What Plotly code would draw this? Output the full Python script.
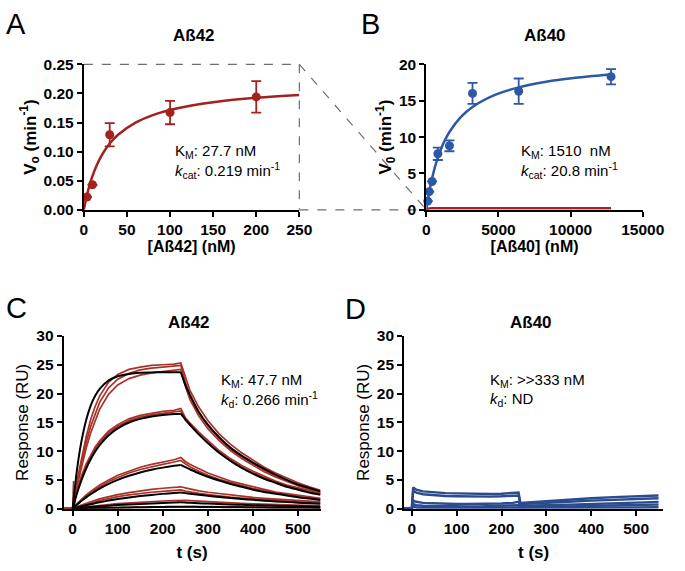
import plotly.graph_objects as go

# ---------------- Panel A : Aß42 kinetics ----------------
a_conc = [3.7, 10, 30, 100, 200]
a_v0 = [0.022, 0.043, 0.129, 0.167, 0.194]
a_err = [0, 0, 0.020, 0.020, 0.027]
a_fit_x = [0, 2, 5, 10, 20, 30, 40, 60, 80, 100, 125, 150, 200, 250]
a_fit_y = [0, 0.0147, 0.0334, 0.0581, 0.0918, 0.1139, 0.1294, 0.1498, 0.1627,
           0.1715, 0.1793, 0.1849, 0.1924, 0.1972]
a_xticks = [0, 50, 100, 150, 200, 250]
a_yticks = [0, 0.05, 0.10, 0.15, 0.20, 0.25]

# ---------------- Panel B : Aß40 kinetics ----------------
b_conc = [100, 200, 400, 800, 1600, 3200, 6400, 12800]
b_v0 = [1.2, 2.5, 3.9, 7.7, 8.8, 16.0, 16.3, 18.3]
b_err = [0, 0, 0, 0.85, 0.75, 1.45, 1.75, 1.05]
b_fit_x = [0, 100, 200, 400, 800, 1200, 1600, 2400, 3200, 4800, 6400, 8000,
           9600, 11200, 12800]
b_fit_y = [0, 1.29, 2.43, 4.36, 7.20, 9.21, 10.70, 12.77, 14.13, 15.82, 16.83,
           17.50, 17.97, 18.33, 18.61]
b_a42_x = [0, 100, 400, 1600, 6400, 12800]
b_a42_y = [0, 0.17, 0.205, 0.215, 0.218, 0.219]
b_xticks = [0, 5000, 10000, 15000]
b_yticks = [0, 5, 10, 15, 20]

# ---------------- Panel C : SPR Aß42 ----------------
c_t = [0, 10, 20, 30, 40, 50, 60, 80, 100, 125, 150, 175, 200, 225, 240,
       250, 260, 280, 300, 325, 350, 375, 400, 425, 450, 475, 500, 525, 550]
c_baseline_t = -20
c_spike_t = 2
c_spike_peak = 4.8
c_fits = [
    [0, 7.0, 11.9, 15.4, 17.9, 19.6, 20.8, 22.3, 23.0, 23.4, 23.6, 23.65, 23.7, 23.7, 23.7,
     21.5, 19.8, 16.8, 14.6, 12.4, 10.6, 9.2, 8.0, 6.9, 5.9, 5.0, 4.2, 3.6, 3.0],
    [0, 2.76, 5.05, 6.97, 8.58, 9.92, 11.03, 12.76, 13.96, 14.96, 15.6, 16.0, 16.26, 16.43, 16.5,
     15.5, 14.6, 12.9, 11.4, 9.7, 8.3, 7.1, 6.1, 5.2, 4.5, 3.8, 3.3, 2.8, 2.4],
    [0, 0.71, 1.37, 1.96, 2.51, 3.02, 3.49, 4.30, 5.0, 5.71, 6.29, 6.76, 7.13, 7.44, 7.6,
     7.2, 6.85, 6.15, 5.55, 4.9, 4.3, 3.8, 3.3, 2.9, 2.6, 2.3, 2.0, 1.75, 1.5],
    [0, 0.21, 0.41, 0.61, 0.78, 0.95, 1.11, 1.40, 1.66, 1.94, 2.18, 2.39, 2.57, 2.72, 2.8,
     2.7, 2.6, 2.42, 2.23, 2.03, 1.84, 1.68, 1.53, 1.39, 1.26, 1.15, 1.05, 0.95, 0.87],
    [0, 0.08, 0.15, 0.22, 0.29, 0.35, 0.41, 0.52, 0.62, 0.73, 0.83, 0.91, 0.99, 1.06, 1.1,
     1.06, 1.02, 0.95, 0.88, 0.80, 0.73, 0.67, 0.61, 0.56, 0.51, 0.46, 0.42, 0.38, 0.35],
    [0, 0.02, 0.04, 0.06, 0.08, 0.10, 0.11, 0.14, 0.17, 0.21, 0.25, 0.28, 0.31, 0.33, 0.35,
     0.34, 0.33, 0.31, 0.29, 0.27, 0.25, 0.23, 0.21, 0.19, 0.17, 0.16, 0.15, 0.14, 0.13],
]
c_data = [
    [0, 5.0, 9.0, 12.5, 15.5, 17.8, 19.6, 22.0, 23.3, 24.2, 24.6, 24.9, 25.0, 25.1, 25.3,
     22.8, 20.6, 17.6, 15.3, 13.0, 11.2, 9.7, 8.4, 7.2, 6.2, 5.3, 4.5, 3.8, 3.2],
    [0, 4.5, 8.3, 11.5, 14.3, 16.6, 18.5, 21.0, 22.5, 23.5, 24.1, 24.4, 24.6, 24.8, 24.9,
     22.0, 19.6, 16.6, 14.4, 12.2, 10.4, 9.0, 7.8, 6.7, 5.7, 4.9, 4.1, 3.5, 2.9],
    [0, 4.0, 7.5, 10.5, 13.2, 15.4, 17.3, 19.9, 21.5, 22.6, 23.2, 23.6, 23.8, 24.0, 24.2,
     21.3, 19.0, 16.1, 13.9, 11.8, 10.1, 8.7, 7.5, 6.4, 5.5, 4.7, 4.0, 3.4, 2.8],
    [0, 3.3, 5.8, 7.8, 9.4, 10.7, 11.8, 13.5, 14.6, 15.6, 16.2, 16.6, 16.9, 17.1, 17.4,
     15.8, 14.9, 13.3, 11.8, 10.1, 8.7, 7.5, 6.5, 5.6, 4.8, 4.1, 3.6, 3.1, 2.7],
    [0, 3.0, 5.5, 7.5, 9.1, 10.4, 11.5, 13.2, 14.3, 15.3, 15.9, 16.3, 16.6, 16.8, 17.0,
     15.4, 14.5, 12.9, 11.4, 9.8, 8.4, 7.2, 6.2, 5.4, 4.6, 4.0, 3.4, 2.9, 2.5],
    [0, 0.9, 1.7, 2.4, 3.0, 3.6, 4.1, 5.0, 5.8, 6.5, 7.2, 7.7, 8.1, 8.5, 8.9,
     8.2, 7.7, 6.9, 6.2, 5.5, 4.8, 4.3, 3.8, 3.3, 2.9, 2.6, 2.3, 2.0, 1.8],
    [0, 0.8, 1.5, 2.2, 2.8, 3.3, 3.8, 4.7, 5.4, 6.2, 6.8, 7.3, 7.7, 8.1, 8.4,
     7.8, 7.3, 6.5, 5.8, 5.1, 4.5, 4.0, 3.5, 3.1, 2.7, 2.4, 2.1, 1.85, 1.6],
    [0, 0.35, 0.65, 0.95, 1.2, 1.45, 1.7, 2.1, 2.45, 2.8, 3.1, 3.35, 3.55, 3.7, 3.8,
     3.6, 3.4, 3.1, 2.85, 2.6, 2.35, 2.15, 1.95, 1.8, 1.65, 1.5, 1.4, 1.3, 1.2],
    [0, 0.3, 0.55, 0.8, 1.0, 1.2, 1.4, 1.8, 2.1, 2.4, 2.65, 2.85, 3.0, 3.15, 3.25,
     3.05, 2.9, 2.65, 2.45, 2.2, 2.0, 1.85, 1.7, 1.55, 1.4, 1.3, 1.2, 1.1, 1.0],
    [0, 0.12, 0.22, 0.32, 0.42, 0.5, 0.58, 0.72, 0.86, 1.0, 1.12, 1.23, 1.33, 1.42, 1.5,
     1.45, 1.4, 1.3, 1.2, 1.1, 1.0, 0.92, 0.84, 0.77, 0.7, 0.64, 0.58, 0.53, 0.48],
    [0, 0.03, 0.05, 0.08, 0.1, 0.12, 0.14, 0.17, 0.21, 0.25, 0.3, 0.33, 0.37, 0.4, 0.42,
     0.41, 0.4, 0.37, 0.35, 0.32, 0.3, 0.28, 0.25, 0.23, 0.21, 0.2, 0.18, 0.17, 0.16],
]
cd_xticks = [0, 100, 200, 300, 400, 500]
cd_yticks = [0, 5, 10, 15, 20, 25, 30]

# ---------------- Panel D : SPR Aß40 ----------------
d_t = [-20, 0, 3, 10, 25, 50, 75, 100, 125, 150, 175, 200, 225, 238, 242, 260,
       300, 350, 400, 450, 500, 550]
d_data = [
    [0.1, 0.1, 3.7, 3.3, 3.0, 2.8, 2.7, 2.65, 2.6, 2.55, 2.55, 2.6, 2.65, 2.8, 1.0, 1.1,
     1.3, 1.55, 1.8, 2.0, 2.2, 2.3],
    [0.1, 0.1, 3.1, 2.8, 2.5, 2.3, 2.2, 2.15, 2.1, 2.1, 2.1, 2.15, 2.2, 2.3, 0.8, 0.85,
     1.0, 1.2, 1.4, 1.55, 1.7, 1.8],
    [0.1, 0.1, 1.4, 1.2, 1.0, 0.9, 0.85, 0.8, 0.8, 0.8, 0.85, 0.9, 1.0, 1.2, 0.5, 0.5,
     0.6, 0.7, 0.85, 0.95, 1.05, 1.15],
    [0.1, 0.1, 0.8, 0.6, 0.5, 0.45, 0.4, 0.4, 0.4, 0.4, 0.45, 0.5, 0.5, 0.6, 0.3, 0.3,
     0.35, 0.4, 0.5, 0.55, 0.6, 0.7],
    [0.05, 0.05, 0.3, 0.2, 0.15, 0.15, 0.15, 0.15, 0.15, 0.15, 0.15, 0.15, 0.2, 0.2, 0.1,
     0.1, 0.1, 0.15, 0.15, 0.2, 0.2, 0.25],
]

# ---------------- Text ----------------
panel_letters = ["A", "B", "C", "D"]
titles = ["Aß42", "Aß40", "Aß42", "Aß40"]
a_params = ["K<sub>M</sub>: 27.7 nM", "<i>k</i><sub>cat</sub>: 0.219 min<sup>-1</sup>"]
b_params = ["K<sub>M</sub>: 1510  nM", "<i>k</i><sub>cat</sub>: 20.8 min<sup>-1</sup>"]
c_params = ["K<sub>M</sub>: 47.7 nM", "<i>k</i><sub>d</sub>: 0.266 min<sup>-1</sup>"]
d_params = ["K<sub>M</sub>: >>333 nM", "<i>k</i><sub>d</sub>: ND"]

RED = "#a3221e"
RED_DATA = "#a9322a"
BLUE = "#2c58a6"
NAVY = "#2b4b8f"
FONT = "Liberation Sans, Arial, sans-serif"

W, H = 685, 571
def px_x(p):
    return p / W
def px_y(p):
    return 1 - p / H

dom = {
    "A": ([px_x(83), px_x(307)], [px_y(207), px_y(57)]),
    "B": ([px_x(439), px_x(664)], [px_y(207), px_y(57)]),
    "C": ([px_x(62), px_x(329)], [px_y(515), px_y(337)]),
    "D": ([px_x(416), 1.0], [px_y(515), px_y(337)]),
}

fig = go.Figure()

# A
fig.add_trace(go.Scatter(x=a_fit_x, y=a_fit_y, mode="lines", line=dict(color=RED, width=2.5, shape="spline"),
                         xaxis="x", yaxis="y", showlegend=False, cliponaxis=False))
fig.add_trace(go.Scatter(x=a_conc, y=a_v0, mode="markers", marker=dict(color=RED, size=9),
                         error_y=dict(type="data", array=a_err, color=RED, thickness=1.8, width=5),
                         xaxis="x", yaxis="y", showlegend=False, cliponaxis=False))
# B
fig.add_trace(go.Scatter(x=b_a42_x, y=b_a42_y, mode="lines", line=dict(color=RED, width=2.5),
                         xaxis="x2", yaxis="y2", showlegend=False, cliponaxis=False))
fig.add_trace(go.Scatter(x=b_fit_x, y=b_fit_y, mode="lines", line=dict(color=BLUE, width=2.5, shape="spline"),
                         xaxis="x2", yaxis="y2", showlegend=False, cliponaxis=False))
fig.add_trace(go.Scatter(x=b_conc, y=b_v0, mode="markers", marker=dict(color=BLUE, size=9),
                         error_y=dict(type="data", array=b_err, color=BLUE, thickness=1.8, width=5),
                         xaxis="x2", yaxis="y2", showlegend=False, cliponaxis=False))

# C
i240 = c_t.index(240)
for k, ys in enumerate(c_data):
    xs = [c_baseline_t] + c_t
    yv = [0] + ys
    if k == 0:
        xs = [c_baseline_t, 0, c_spike_t, c_spike_t + 2] + c_t[1:]
        yv = [0, 0, c_spike_peak, ys[0] + 0.5] + ys[1:]
    fig.add_trace(go.Scatter(x=xs, y=yv, mode="lines", line=dict(color=RED_DATA, width=1.7),
                             xaxis="x3", yaxis="y3", showlegend=False))
for ys in c_fits:
    fig.add_trace(go.Scatter(x=c_t[:i240 + 1], y=ys[:i240 + 1], mode="lines",
                             line=dict(color="black", width=2, shape="spline", smoothing=0.8),
                             xaxis="x3", yaxis="y3", showlegend=False))
    fig.add_trace(go.Scatter(x=c_t[i240:], y=ys[i240:], mode="lines",
                             line=dict(color="black", width=2, shape="spline", smoothing=0.8),
                             xaxis="x3", yaxis="y3", showlegend=False))

# D
for ys in d_data:
    fig.add_trace(go.Scatter(x=d_t, y=ys, mode="lines", line=dict(color=NAVY, width=2.4),
                             xaxis="x4", yaxis="y4", showlegend=False))

tickfont = dict(family=FONT, size=15.5, color="black")
def bold(v):
    return ["<b>%s</b>" % s for s in v]

def axis(domain, anchor, rng, vals, texts, **kw):
    d = dict(domain=domain, anchor=anchor, range=rng, showline=True, linecolor="black",
             linewidth=2, ticks="outside", ticklen=5, tickwidth=2, tickcolor="black",
             showgrid=False, zeroline=False, tickfont=tickfont, fixedrange=True,
             tickmode="array", tickvals=vals, ticktext=bold(texts))
    d.update(kw)
    return d

bt = dict(family=FONT, size=17, color="black")
fig.update_layout(
    width=W, height=H, margin=dict(l=0, r=0, t=0, b=0), autosize=False,
    plot_bgcolor="white", paper_bgcolor="white", font=dict(family=FONT, color="black"),
    xaxis=axis(dom["A"][0], "y", [0, 250], a_xticks, [str(v) for v in a_xticks],
               title=dict(text="<b>[Aß42] (nM)</b>", font=dict(family=FONT, size=16), standoff=2)),
    yaxis=axis(dom["A"][1], "x", [0, 0.25], a_yticks, ["%.2f" % v for v in a_yticks],
               title=dict(text="<b>V<sub>o</sub> (min<sup>-1</sup>)</b>", font=bt, standoff=3)),
    xaxis2=axis(dom["B"][0], "y2", [0, 15000], b_xticks, [str(v) for v in b_xticks],
                title=dict(text="<b>[Aß40] (nM)</b>", font=dict(family=FONT, size=16), standoff=2)),
    yaxis2=axis(dom["B"][1], "x2", [0, 20], b_yticks, [str(v) for v in b_yticks],
                title=dict(text="<b>V<sub>0</sub> (min<sup>-1</sup>)</b>", font=bt, standoff=3)),
    xaxis3=axis(dom["C"][0], "y3", [-20, 550], cd_xticks, [str(v) for v in cd_xticks],
                title=dict(text="<b>t (s)</b>", font=bt, standoff=10)),
    yaxis3=axis(dom["C"][1], "x3", [0, 30], cd_yticks, [str(v) for v in cd_yticks],
                title=dict(text="Response (RU)", font=bt, standoff=3)),
    xaxis4=axis(dom["D"][0], "y4", [-17, 560], cd_xticks, [str(v) for v in cd_xticks],
                title=dict(text="<b>t (s)</b>", font=bt, standoff=10)),
    yaxis4=axis(dom["D"][1], "x4", [0, 30], cd_yticks, [str(v) for v in cd_yticks],
                title=dict(text="Response (RU)", font=bt, standoff=3)),
)

# Zoom connector (dashed)
ax0, ax1 = dom["A"][0]
ay0, ay1 = dom["A"][1]
bx0 = dom["B"][0][0]
by0 = dom["B"][1][0]
dash = dict(color="#6e6e6e", width=1.2, dash="dash")
for (x0, y0, x1, y1) in [(ax0, ay1, ax1, ay1), (ax1, ay1, ax1, ay0), (ax1, ay0, bx0, by0), (ax1, ay1, bx0, by0)]:
    fig.add_shape(type="line", xref="paper", yref="paper", x0=x0, y0=y0, x1=x1, y1=y1, line=dash, layer="below")

# Panel letters
for letter, (x, y) in zip(panel_letters, [(12, 15), (381, 15), (13, 308), (365, 309)]):
    fig.add_annotation(text=letter, x=px_x(x), y=px_y(y), xref="paper", yref="paper", showarrow=False,
                       xanchor="center", yanchor="middle", font=dict(family=FONT, size=29, color="black"))
# Panel titles
for t, (x, y) in zip(titles, [(197, 27), (562, 27), (192, 323), (548, 323)]):
    fig.add_annotation(text="<b>%s</b>" % t, x=px_x(x), y=px_y(y), xref="paper", yref="paper", showarrow=False,
                       xanchor="center", yanchor="middle", font=dict(family=FONT, size=17, color="black"))
# Parameter text
for params, (x, y1, y2) in [(a_params, (176, 147, 166)), (b_params, (535, 147, 166)),
                            (c_params, (223, 383, 402)), (d_params, (503, 383, 402))]:
    for txt, y in zip(params, (y1, y2)):
        fig.add_annotation(text=txt, x=px_x(x), y=px_y(y), xref="paper", yref="paper", showarrow=False,
                           xanchor="left", yanchor="middle", font=dict(family=FONT, size=15, color="black"))

post = (
    "document.documentElement.style.margin='0';document.body.style.margin='0';"
    "document.documentElement.style.overflow='hidden';document.body.style.overflow='hidden';"
    "var gd=document.getElementById('{plot_id}');"
    "var w=window.innerWidth,h=window.innerHeight;"
    "if(w>300&&h>300&&(w!==%d||h!==%d)){Plotly.relayout(gd,{width:w,height:h});}" % (W, H)
)
fig.write_html("out.html", config={"displayModeBar": False}, post_script=post)
